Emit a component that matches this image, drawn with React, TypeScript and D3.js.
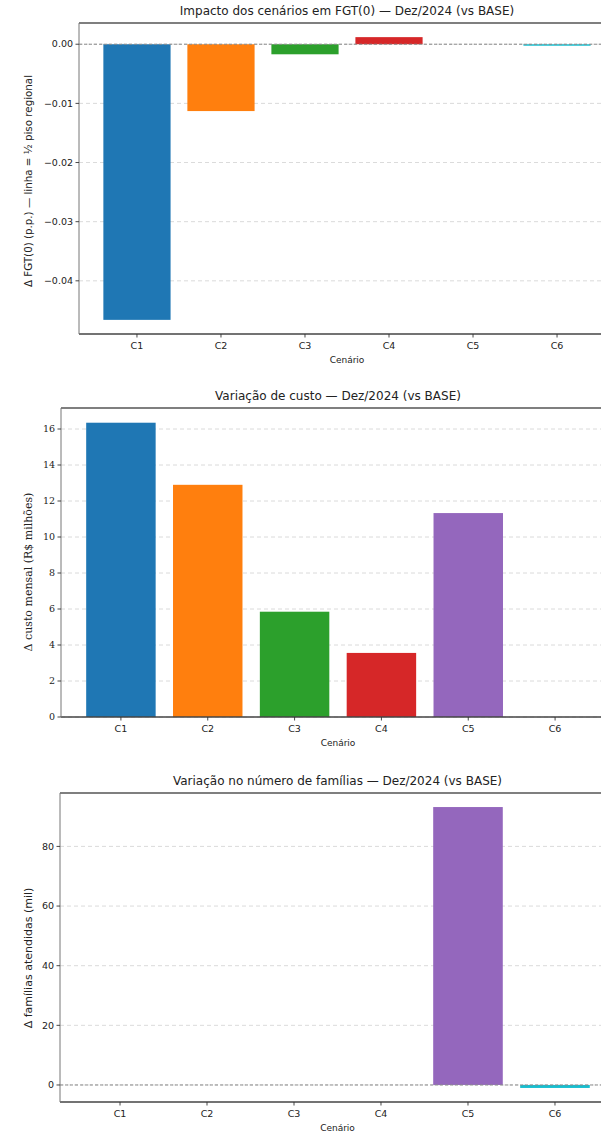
import React from "react";
import * as d3 from "d3";

const categories = ["C1", "C2", "C3", "C4", "C5", "C6"];
const colors = ["#1f77b4", "#ff7f0e", "#2ca02c", "#d62728", "#9467bd", "#17becf"];

const fgtDelta = [-0.0466, -0.0113, -0.0017, 0.0012, 0.0, -0.0001];
const fgtTicks = [0, -0.01, -0.02, -0.03, -0.04];

const costDelta = [16.35, 12.9, 5.85, 3.56, 11.33, 0];
const costTicks = [0, 2, 4, 6, 8, 10, 12, 14, 16];

const familiesDelta = [0, 0, 0, 0, 93.2, -1.0];
const familiesTicks = [0, 20, 40, 60, 80];

const SANS = "'DejaVu Sans', sans-serif";
const SERIF = "'DejaVu Serif', serif";

type PanelProps = {
  values: number[];
  ticks: number[];
  fmt: (v: number) => string;
  title: string;
  ylabel: string;
  left: number;
  right: number;
  top: number;
  bottom: number;
  stickyZero: boolean;
  zeroLine: boolean;
  tickFont: string;
  ylabelFont: string;
  ylabelSize: number;
  ylabelCy: number;
};

function Panel(p: PanelProps) {
  const lo = Math.min(0, d3.min(p.values)!);
  const hi = Math.max(0, d3.max(p.values)!);
  const m = (hi - lo) * 0.05;
  const yDomain: [number, number] = [p.stickyZero && lo === 0 ? 0 : lo - m, hi + m];
  const x = d3.scaleLinear().domain([-0.69, 5.69]).range([p.left, p.right]);
  const y = d3.scaleLinear().domain(yDomain).range([p.bottom, p.top]);
  const bw = x(0.4) - x(-0.4);
  const axCx = (p.left + p.right) / 2;
  return (
    <g>
      <defs>
        <clipPath id={`clip${p.top}`}>
          <rect x={p.left} y={p.top} width={p.right - p.left} height={p.bottom - p.top} />
        </clipPath>
      </defs>
      {p.ticks.map((t) => (
        <line key={"g" + t} x1={p.left} x2={p.right} y1={y(t)} y2={y(t)} stroke="#d0d0d0" strokeWidth={0.8} strokeDasharray="4,3" />
      ))}
      <g clipPath={`url(#clip${p.top})`}>
        {p.values.map((v, i) => (
          <rect
            key={"b" + i}
            x={x(i) - bw / 2}
            width={bw}
            y={Math.min(y(v), y(0))}
            height={Math.max(Math.abs(y(v) - y(0)), v !== 0 ? 1.5 : 0)}
            fill={colors[i]}
          />
        ))}
      </g>
      {p.zeroLine && (
        <line x1={p.left} x2={p.right} y1={y(0)} y2={y(0)} stroke="#8a8a8a" strokeWidth={1} strokeDasharray="3,2" />
      )}
      <line x1={p.left} x2={p.right} y1={p.top} y2={p.top} stroke="#555" strokeWidth={1.5} />
      <line x1={p.left} x2={p.right} y1={p.bottom} y2={p.bottom} stroke="#444" strokeWidth={1.3} />
      <line x1={p.left} x2={p.left} y1={p.top} y2={p.bottom} stroke="#777" strokeWidth={1} />
      {p.ticks.map((t) => (
        <g key={"t" + t}>
          <line x1={p.left - 3.5} x2={p.left} y1={y(t)} y2={y(t)} stroke="#333" strokeWidth={0.9} />
          <text x={p.left - 6} y={y(t)} dy="0.34em" textAnchor="end" fontFamily={p.tickFont} fontSize={9.5} fill="#222">
            {p.fmt(t)}
          </text>
        </g>
      ))}
      {categories.map((c, i) => (
        <g key={"x" + c}>
          <line x1={x(i)} x2={x(i)} y1={p.bottom} y2={p.bottom + 3.5} stroke="#333" strokeWidth={0.9} />
          <text x={x(i)} y={p.bottom + 15} textAnchor="middle" fontFamily={SANS} fontSize={9.5} fill="#222">
            {c}
          </text>
        </g>
      ))}
      <text x={axCx} y={p.bottom + 29} textAnchor="middle" fontFamily={SANS} fontSize={9} fill="#222">
        Cenário
      </text>
      <text x={axCx} y={p.top - 8} textAnchor="middle" fontFamily={SANS} fontSize={12} fill="#222">
        {p.title}
      </text>
      <text
        transform={`translate(${32},${p.ylabelCy}) rotate(-90)`}
        textAnchor="middle"
        fontFamily={p.ylabelFont}
        fontSize={p.ylabelSize}
        fill="#222"
      >
        {p.ylabel}
      </text>
    </g>
  );
}

const fmtFgt = (v: number) => (v === 0 ? "0.00" : d3.format(".2f")(v).replace("-", "\u2212"));
const fmtInt = (v: number) => String(v);

export default function App() {
  return (
    <svg width={601} height={1134} style={{ position: "absolute", left: 0, top: 0, background: "#fff" }}>
      <rect width={601} height={1134} fill="#fff" />
      <Panel
        values={fgtDelta}
        ticks={fgtTicks}
        fmt={fmtFgt}
        title="Impacto dos cenários em FGT(0) — Dez/2024 (vs BASE)"
        ylabel="Δ FGT(0) (p.p.) — linha = ½ piso regional"
        left={79}
        right={615}
        top={23}
        bottom={334}
        stickyZero={false}
        zeroLine={true}
        tickFont={SANS}
        ylabelFont={SANS}
        ylabelSize={10.3}
        ylabelCy={181}
      />
      <Panel
        values={costDelta}
        ticks={costTicks}
        fmt={fmtInt}
        title="Variação de custo — Dez/2024 (vs BASE)"
        ylabel="Δ custo mensal (R$ milhões)"
        left={61}
        right={615}
        top={408}
        bottom={717}
        stickyZero={true}
        zeroLine={false}
        tickFont={SERIF}
        ylabelFont={SERIF}
        ylabelSize={11}
        ylabelCy={572}
      />
      <Panel
        values={familiesDelta}
        ticks={familiesTicks}
        fmt={fmtInt}
        title="Variação no número de famílias — Dez/2024 (vs BASE)"
        ylabel="Δ famílias atendidas (mil)"
        left={60}
        right={615}
        top={793}
        bottom={1102}
        stickyZero={false}
        zeroLine={true}
        tickFont={SANS}
        ylabelFont={SANS}
        ylabelSize={11}
        ylabelCy={958}
      />
    </svg>
  );
}
